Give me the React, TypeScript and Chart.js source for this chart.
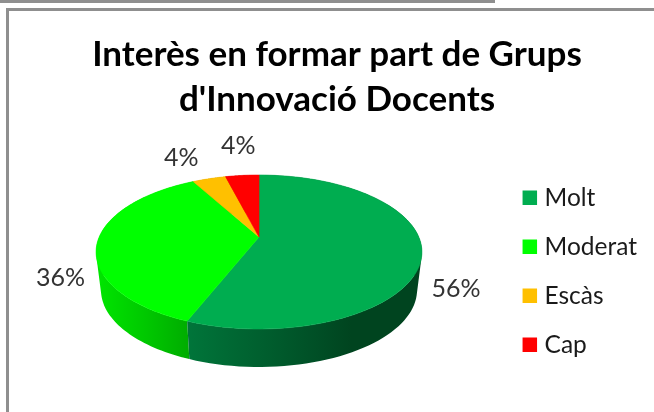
import React, { useEffect, useRef } from "react";
import { Chart, registerables } from "chart.js";

Chart.register(...registerables);

const titleLines = ["Interès en formar part de Grups", "d'Innovació Docents"];
const categories = ["Molt", "Moderat", "Escàs", "Cap"];
const values = [56, 36, 4, 4];
const colors = ["#00AD50", "#00FF00", "#FFC000", "#FF0000"];

// Geometry of the perspective pie (styling, not data)
const APEX = { x: 259, y: 237 };
const C = -0.1948, A = 74.08, D = 159.8;
const DEPTH = 38, SHRINK = 0.97;
const labelOffsets = [[34, 38], [-37, 36], [-28, -21], [-4, -29]];
const wallStops: [number, string][][] = [
  [[0, "#00753A"], [0.55, "#004F26"], [0.7, "#00441F"], [1, "#00441F"]],
  [[0, "#00E600"], [0.5, "#00C800"], [1, "#00A800"]],
  [[0, "#B88A00"], [1, "#B88A00"]],
  [[0, "#B80000"], [1, "#B80000"]],
];

type Pt = { x: number; y: number };

function project(angle: number, r = 1, depth = 0): Pt {
  const u = Math.cos(angle) * r, v = Math.sin(angle) * r;
  const w = 1 + C * v;
  const shrink = depth ? SHRINK : 1;
  return { x: APEX.x + (D * u * shrink) / w, y: APEX.y + (A * v) / w + depth };
}

function signedArea(q: Pt[]) {
  let s = 0;
  q.forEach((p, i) => {
    const n = q[(i + 1) % q.length];
    s += p.x * n.y - n.x * p.y;
  });
  return s;
}

const pie3d = {
  id: "pie3d",
  beforeDatasetDraw(chart: any) {
    const ctx: CanvasRenderingContext2D = chart.ctx;
    const arcs = chart.getDatasetMeta(0).data;
    const N = 90;
    ctx.save();
    // side wall, back to front: one path of equally wound strips, so no seams
    [2, 3, 1, 0].forEach((i) => {
      const arc = arcs[i];
      const s = arc.startAngle, e = arc.endAngle;
      const top: Pt[] = [];
      const bot: Pt[] = [];
      for (let k = 0; k <= N; k++) {
        const a = s + ((e - s) * k) / N;
        top.push(project(a));
        bot.push(project(a, 1, DEPTH));
      }
      const xs = top.concat(bot).map((p) => p.x);
      const g = ctx.createLinearGradient(Math.min(...xs), 0, Math.max(...xs), 0);
      wallStops[i].forEach(([o, c]) => g.addColorStop(o, c));
      ctx.fillStyle = g;
      ctx.beginPath();
      for (let k = 0; k < N; k++) {
        const q = [top[k], top[k + 1], bot[k + 1], bot[k]];
        if (signedArea(q) < 0) q.reverse();
        q.forEach((p, j) => (j ? ctx.lineTo(p.x, p.y) : ctx.moveTo(p.x, p.y)));
        ctx.closePath();
      }
      ctx.fill();
    });
    // top face
    arcs.forEach((arc: any, i: number) => {
      const s = arc.startAngle, e = arc.endAngle;
      ctx.fillStyle = colors[i];
      ctx.strokeStyle = colors[i];
      ctx.lineWidth = 0.6;
      ctx.beginPath();
      ctx.moveTo(APEX.x, APEX.y);
      for (let k = 0; k <= N; k++) {
        const p = project(s + ((e - s) * k) / N);
        ctx.lineTo(p.x, p.y);
      }
      ctx.closePath();
      ctx.fill();
      ctx.stroke();
    });
    // labels
    const total = values.reduce((a, b) => a + b, 0);
    ctx.font = "25px Lato";
    ctx.fillStyle = "#333333";
    ctx.textAlign = "center";
    ctx.textBaseline = "middle";
    arcs.forEach((arc: any, i: number) => {
      const p = project((arc.startAngle + arc.endAngle) / 2);
      const [dx, dy] = labelOffsets[i];
      ctx.fillText(`${Math.round((values[i] / total) * 100)}%`, p.x + dx, p.y + dy);
    });
    ctx.restore();
    return false;
  },
};

export default function App() {
  const ref = useRef<HTMLCanvasElement>(null);
  useEffect(() => {
    document.body.style.margin = "0";
    const chart = new Chart(ref.current!, {
      type: "pie",
      data: {
        labels: categories,
        datasets: [{ data: values, backgroundColor: colors, borderWidth: 0 }],
      },
      options: {
        responsive: false,
        animation: false,
        layout: { padding: { top: 32, right: 7, bottom: 0, left: 27 } },
        plugins: {
          title: {
            display: true,
            text: titleLines,
            color: "#000000",
            font: { family: "Lato", size: 35, weight: "bold", lineHeight: 1.29 },
            padding: { top: 0, bottom: 8 },
          },
          legend: {
            position: "right",
            fullSize: false,
            labels: {
              color: "#1a1a1a",
              font: { family: "Lato", size: 24.5 },
              boxWidth: 5,
              boxHeight: 5,
              padding: 24.5,
              generateLabels: () =>
                categories.map((text, i) => ({
                  text,
                  fillStyle: colors[i],
                  strokeStyle: colors[i],
                  lineWidth: 9.5,
                  fontColor: "#1a1a1a",
                  index: i,
                })),
            },
          },
          tooltip: { enabled: false },
        },
      },
      plugins: [pie3d],
    } as any);
    return () => chart.destroy();
  }, []);
  const rule = (s: React.CSSProperties) => (
    <div style={{ position: "absolute", background: "#8f8f8f", ...s }} />
  );
  return (
    <div style={{ position: "relative", width: 654, height: 412, overflow: "hidden", background: "#fff" }}>
      <canvas ref={ref} width={654} height={412} style={{ display: "block" }} />
      {rule({ left: 0, top: 0, width: 495, height: 3 })}
      {rule({ left: 6, top: 8, width: 648, height: 3 })}
      {rule({ left: 6, top: 8, width: 3, height: 404 })}
    </div>
  );
}
